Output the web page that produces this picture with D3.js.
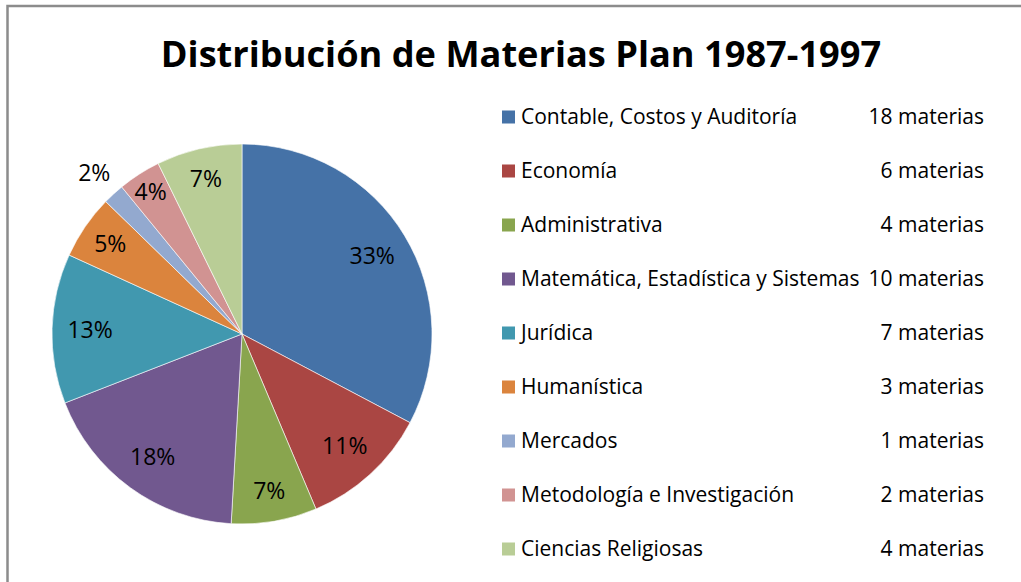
<!DOCTYPE html>
<meta charset="utf-8">
<style>
body { margin: 0; background: #fff; }
text { font-family: "Open Sans", Lato, sans-serif; fill: #000; }
.title { font-weight: bold; font-size: 36.2px; }
.legend text { font-size: 21px; }
.pct { font-size: 23px; }
</style>
<svg width="1021" height="582"></svg>
<script src="https://d3js.org/d3.v7.min.js"></script>
<script>

var categories = ["Contable, Costos y Auditoría", "Economía", "Administrativa",
  "Matemática, Estadística y Sistemas", "Jurídica", "Humanística", "Mercados",
  "Metodología e Investigación", "Ciencias Religiosas"];
var materias = [18, 6, 4, 10, 7, 3, 1, 2, 4];
var colors = ["#4572A7", "#AA4643", "#89A54E", "#71588F", "#4198AF",
  "#DB843D", "#93A9CF", "#D19392", "#B9CD96"];

var svg = d3.select("svg");

// chart frame (runs off the right and bottom of the picture)
svg.append("rect")
    .attr("x", 7.5).attr("y", 6)
    .attr("width", 1040).attr("height", 600)
    .attr("fill", "none")
    .attr("stroke", "#8c8c8c")
    .attr("stroke-width", 2.5);

svg.append("text")
    .attr("class", "title")
    .attr("x", 521).attr("y", 67)
    .attr("text-anchor", "middle")
    .text("Distribución de Materias Plan 1987-1997");

var total = d3.sum(materias);
var data = categories.map((c, i) => ({name: c, value: materias[i], color: colors[i]}));

var R = 190;
var pie = d3.pie().sort(null).value(d => d.value);
var arc = d3.arc().innerRadius(0).outerRadius(R);

var g = svg.append("g").attr("transform", "translate(242,334)");

var arcs = pie(data);

g.selectAll("path")
  .data(arcs)
  .join("path")
    .attr("d", arc)
    .attr("fill", d => d.data.color)
    .attr("stroke", "#fff")
    .attr("stroke-width", 0.6);

function labelRadius(p) {
  if (p < 3) return R * 1.15;
  if (p <= 4) return R * 0.89;
  if (p < 10) return R * 0.84;
  return R * 0.8;
}

g.selectAll("text.pct")
  .data(arcs)
  .join("text")
    .attr("class", "pct")
    .attr("text-anchor", "middle")
    .attr("dy", "0.35em")
    .attr("transform", d => {
      var p = Math.round(d.data.value / total * 100);
      var a = (d.startAngle + d.endAngle) / 2;
      var r = labelRadius(p);
      return "translate(" + (Math.sin(a) * r) + "," + (-Math.cos(a) * r) + ")";
    })
    .text(d => Math.round(d.data.value / total * 100) + "%");

// legend
var y = d3.scaleBand().domain(d3.range(data.length)).range([90, 576]);

var leg = svg.append("g").attr("class", "legend")
  .selectAll("g")
  .data(data)
  .join("g")
    .attr("transform", (d, i) => "translate(502," + (y(i) + y.bandwidth() / 2) + ")");

leg.append("rect")
    .attr("x", 0).attr("y", -6.5)
    .attr("width", 13).attr("height", 13)
    .attr("fill", d => d.color);

leg.append("text")
    .attr("x", 19).attr("dy", "0.35em")
    .text(d => d.name);

leg.append("text")
    .attr("x", 482).attr("dy", "0.35em")
    .attr("text-anchor", "end")
    .text(d => d.value + " materias");

</script>
